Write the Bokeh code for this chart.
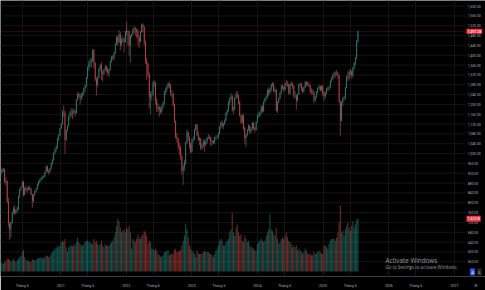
import pandas as pd
from bokeh.plotting import figure
from bokeh.models import Range1d, FixedTicker, Label, ColumnDataSource
from bokeh.core.properties import value
from bokeh.embed import file_html
from bokeh.resources import INLINE

# ---------------- data (weekly candles, VN-Index) ----------------
first_week = "2020-01-06"

open_ = [
    966, 956, 972, 991, 913, 925, 934, 938, 885, 890, 805, 718, 690, 720, 759, 776, 758, 769, 775, 826, 856, 864, 884, 833, 860, 852, 856, 861, 855, 835, 808, 832, 846, 857, 874, 886, 893, 899, 904, 906, 924, 946, 928, 925, 939, 961, 974, 1003, 1018, 1027, 1060, 1075,
    1104, 1120, 1167, 1166, 1056, 1094, 1112, 1152, 1168, 1168, 1167, 1172, 1165, 1220, 1240, 1232, 1224, 1240, 1246, 1266, 1275, 1310, 1350, 1370, 1375, 1378, 1420, 1367, 1302, 1280, 1310, 1345, 1358, 1330, 1325, 1341, 1352, 1345, 1328, 1342, 1376, 1393, 1389, 1410, 1445, 1472, 1452, 1484, 1444, 1464, 1465, 1455,
    1498, 1496, 1497, 1440, 1478, 1485, 1504, 1508, 1505, 1498, 1473, 1456, 1495, 1524, 1515, 1455, 1382, 1366, 1324, 1228, 1240, 1240, 1290, 1290, 1218, 1182, 1188, 1178, 1170, 1193, 1206, 1250, 1261, 1273, 1285, 1280, 1244, 1244, 1200, 1132, 1070, 1059, 1030, 1027, 989, 929, 947, 961, 1045, 1086, 1065, 1040,
    1007, 1055, 1060, 1098, 1117, 1077, 1056, 1060, 1022, 1033, 1048, 1038, 1046, 1064, 1068, 1065, 1046, 1050, 1044, 1066, 1067, 1067, 1081, 1108, 1126, 1114, 1120, 1135, 1165, 1177, 1207, 1222, 1233, 1178, 1180, 1227, 1240, 1232, 1211, 1154, 1128, 1154, 1103, 1062, 1076, 1097, 1112, 1090, 1102, 1124, 1102, 1096,
    1130, 1154, 1154, 1168, 1192, 1172, 1212, 1225, 1230, 1258, 1247, 1263, 1281, 1284, 1254, 1260, 1174, 1209, 1224, 1247, 1274, 1270, 1261, 1285, 1283, 1281, 1245, 1283, 1284, 1274, 1236, 1236, 1216, 1241, 1281, 1283, 1265, 1253, 1270, 1291, 1285, 1282, 1277, 1252, 1251, 1252, 1218, 1228, 1250, 1266, 1273, 1258, 1274,
    1243, 1233, 1248, 1265, 1264, 1269, 1295, 1305, 1319, 1326, 1325, 1326, 1318, 1210, 1135, 1210, 1225, 1226, 1268, 1313, 1308, 1332, 1334, 1318, 1349, 1367, 1387, 1457,
]
high_ = [
    968, 975, 992, 991, 935, 940, 942, 938, 905, 890, 820, 720, 725, 765, 785, 790, 775, 785, 828, 858, 868, 888, 890, 865, 870, 862, 870, 868, 860, 835, 835, 850, 862, 878, 890, 898, 905, 910, 912, 928, 952, 952, 935, 942, 965, 980, 1005, 1022, 1035, 1065, 1080, 1106,
    1125, 1178, 1195, 1175, 1100, 1115, 1155, 1175, 1185, 1180, 1185, 1178, 1222, 1248, 1250, 1245, 1245, 1252, 1270, 1282, 1312, 1355, 1380, 1385, 1390, 1425, 1425, 1372, 1310, 1315, 1350, 1365, 1372, 1338, 1345, 1360, 1358, 1350, 1345, 1380, 1398, 1400, 1415, 1450, 1478, 1480, 1502, 1494, 1470, 1478, 1472, 1500,
    1536, 1505, 1500, 1482, 1490, 1512, 1518, 1515, 1510, 1505, 1480, 1500, 1528, 1530, 1518, 1460, 1390, 1370, 1330, 1250, 1255, 1295, 1300, 1292, 1225, 1205, 1195, 1190, 1198, 1212, 1255, 1265, 1280, 1292, 1290, 1282, 1260, 1248, 1205, 1135, 1085, 1065, 1045, 1030, 995, 955, 975, 1050, 1100, 1090, 1070, 1045,
    1060, 1070, 1100, 1120, 1120, 1090, 1068, 1065, 1040, 1060, 1055, 1060, 1068, 1080, 1075, 1068, 1055, 1055, 1068, 1075, 1075, 1085, 1112, 1130, 1135, 1125, 1140, 1170, 1180, 1215, 1230, 1245, 1240, 1190, 1230, 1250, 1255, 1240, 1215, 1160, 1160, 1160, 1110, 1080, 1100, 1120, 1115, 1108, 1130, 1128, 1110, 1132,
    1160, 1168, 1175, 1195, 1198, 1215, 1228, 1240, 1262, 1270, 1268, 1285, 1292, 1290, 1270, 1262, 1212, 1228, 1252, 1280, 1282, 1275, 1290, 1300, 1295, 1285, 1286, 1295, 1288, 1278, 1255, 1240, 1245, 1285, 1290, 1288, 1270, 1275, 1295, 1295, 1292, 1290, 1280, 1265, 1262, 1255, 1235, 1255, 1270, 1280, 1278, 1278, 1278,
    1255, 1252, 1268, 1272, 1275, 1298, 1312, 1322, 1332, 1335, 1340, 1332, 1320, 1215, 1215, 1232, 1235, 1272, 1318, 1335, 1340, 1345, 1340, 1355, 1372, 1392, 1462, 1502,
]
low_ = [
    947, 953, 970, 910, 904, 920, 925, 880, 870, 798, 702, 649, 658, 715, 755, 750, 752, 762, 770, 820, 845, 860, 825, 830, 845, 840, 850, 850, 830, 780, 800, 828, 842, 852, 868, 880, 888, 895, 900, 904, 920, 925, 915, 922, 935, 955, 970, 995, 1008, 1020, 1050, 1070,
    1100, 1118, 1150, 1000, 1050, 1090, 1110, 1140, 1150, 1140, 1160, 1150, 1162, 1215, 1225, 1200, 1215, 1230, 1235, 1250, 1270, 1305, 1335, 1350, 1350, 1372, 1345, 1295, 1237, 1270, 1305, 1335, 1300, 1295, 1320, 1335, 1330, 1318, 1310, 1338, 1370, 1378, 1380, 1405, 1440, 1440, 1450, 1420, 1435, 1450, 1410, 1450,
    1480, 1440, 1400, 1370, 1470, 1480, 1490, 1480, 1470, 1440, 1430, 1450, 1490, 1495, 1440, 1365, 1300, 1310, 1185, 1160, 1215, 1235, 1270, 1200, 1170, 1170, 1150, 1160, 1165, 1180, 1200, 1240, 1250, 1265, 1265, 1235, 1225, 1190, 1125, 1060, 1045, 1015, 995, 975, 915, 873, 930, 955, 1040, 1050, 1020, 1000,
    1005, 1045, 1055, 1095, 1070, 1050, 1035, 1015, 1015, 1025, 1008, 1030, 1040, 1060, 1055, 1030, 1035, 1038, 1040, 1055, 1058, 1060, 1078, 1100, 1105, 1100, 1115, 1130, 1155, 1170, 1195, 1215, 1170, 1160, 1175, 1220, 1225, 1200, 1150, 1120, 1120, 1095, 1040, 1025, 1070, 1090, 1080, 1082, 1098, 1095, 1085, 1095,
    1125, 1145, 1150, 1160, 1165, 1170, 1205, 1215, 1225, 1235, 1240, 1250, 1270, 1250, 1245, 1170, 1165, 1205, 1220, 1240, 1260, 1250, 1255, 1275, 1270, 1240, 1240, 1275, 1262, 1225, 1225, 1180, 1210, 1238, 1270, 1255, 1245, 1248, 1265, 1275, 1275, 1270, 1245, 1240, 1240, 1205, 1210, 1225, 1245, 1260, 1250, 1255, 1235,
    1215, 1225, 1242, 1255, 1255, 1265, 1290, 1300, 1305, 1310, 1318, 1305, 1205, 1073, 1130, 1195, 1215, 1220, 1265, 1295, 1300, 1320, 1305, 1310, 1340, 1360, 1385, 1450,
]
close_ = [
    956, 972, 991, 913, 925, 934, 938, 885, 890, 805, 718, 690, 720, 759, 776, 758, 769, 775, 826, 856, 864, 884, 833, 860, 852, 856, 861, 855, 835, 808, 832, 846, 857, 874, 886, 893, 899, 904, 906, 924, 946, 928, 925, 939, 961, 974, 1003, 1018, 1027, 1060, 1075, 1104,
    1120, 1167, 1166, 1056, 1094, 1112, 1152, 1168, 1168, 1167, 1172, 1165, 1220, 1240, 1232, 1224, 1240, 1246, 1266, 1275, 1310, 1350, 1370, 1375, 1378, 1420, 1367, 1302, 1280, 1310, 1345, 1358, 1330, 1325, 1341, 1352, 1345, 1328, 1342, 1376, 1393, 1389, 1410, 1445, 1472, 1452, 1484, 1444, 1464, 1465, 1455, 1498,
    1496, 1497, 1440, 1478, 1485, 1504, 1508, 1505, 1498, 1473, 1456, 1495, 1524, 1515, 1455, 1382, 1366, 1324, 1228, 1240, 1240, 1290, 1290, 1218, 1182, 1188, 1178, 1170, 1193, 1206, 1250, 1261, 1273, 1285, 1280, 1244, 1244, 1200, 1132, 1070, 1059, 1030, 1027, 989, 929, 947, 961, 1045, 1086, 1065, 1040, 1007,
    1055, 1060, 1098, 1117, 1077, 1056, 1060, 1022, 1033, 1048, 1038, 1046, 1064, 1068, 1065, 1046, 1050, 1044, 1066, 1067, 1067, 1081, 1108, 1126, 1114, 1120, 1135, 1165, 1177, 1207, 1222, 1233, 1178, 1180, 1227, 1240, 1232, 1211, 1154, 1128, 1154, 1103, 1062, 1076, 1097, 1112, 1090, 1102, 1124, 1102, 1096, 1130,
    1154, 1154, 1168, 1192, 1172, 1212, 1225, 1230, 1258, 1247, 1263, 1281, 1284, 1254, 1260, 1174, 1209, 1224, 1247, 1274, 1270, 1261, 1285, 1283, 1281, 1245, 1283, 1284, 1274, 1236, 1236, 1216, 1241, 1281, 1283, 1265, 1253, 1270, 1291, 1285, 1282, 1277, 1252, 1251, 1252, 1218, 1228, 1250, 1266, 1273, 1258, 1274, 1243,
    1233, 1248, 1265, 1264, 1269, 1295, 1305, 1319, 1326, 1325, 1326, 1318, 1210, 1135, 1210, 1225, 1226, 1268, 1313, 1308, 1332, 1334, 1318, 1349, 1367, 1387, 1457, 1497.28,
]
# average daily volume of each week, billions of shares
volume_ = [
    0.20, 0.22, 0.18, 0.30, 0.30, 0.25, 0.24, 0.30, 0.32, 0.40, 0.40, 0.35, 0.30, 0.35, 0.38, 0.33, 0.30, 0.35, 0.40, 0.45, 0.48, 0.60, 0.66, 0.45, 0.35, 0.33, 0.33, 0.30, 0.30, 0.38, 0.36, 0.35, 0.36, 0.40, 0.42, 0.42, 0.43, 0.42, 0.40, 0.45, 0.50, 0.48, 0.45, 0.48, 0.55, 0.60, 0.65, 0.70, 0.72, 0.78, 0.75, 0.80,
    0.90, 0.95, 0.90, 1.00, 0.75, 0.60, 0.75, 0.78, 0.80, 0.78, 0.85, 0.80, 0.90, 1.05, 0.90, 0.85, 0.80, 0.80, 0.85, 0.90, 0.95, 0.95, 0.90, 0.90, 0.85, 0.85, 1.00, 0.90, 0.95, 0.85, 0.80, 0.85, 0.95, 0.80, 0.75, 0.85, 0.80, 0.80, 0.80, 0.85, 0.90, 0.95, 1.05, 1.20, 1.40, 1.62, 1.55, 1.35, 1.20, 1.25, 1.30, 1.20,
    1.35, 1.30, 1.40, 1.20, 0.70, 1.00, 0.95, 0.90, 1.00, 1.15, 1.05, 1.00, 1.10, 1.15, 1.25, 1.20, 1.10, 0.85, 0.95, 0.90, 0.70, 0.70, 0.65, 0.70, 0.65, 0.55, 0.50, 0.45, 0.48, 0.50, 0.60, 0.60, 0.65, 0.65, 0.50, 0.55, 0.55, 0.55, 0.65, 0.70, 0.60, 0.60, 0.65, 0.65, 0.80, 0.95, 1.10, 1.47, 1.30, 1.05, 0.80, 0.70,
    0.65, 0.60, 0.55, 0.45, 0.65, 0.55, 0.55, 0.55, 0.55, 0.60, 0.65, 0.60, 0.60, 0.60, 0.55, 0.55, 0.50, 0.45, 0.55, 0.65, 0.70, 0.80, 0.95, 1.00, 0.95, 0.80, 0.80, 0.90, 0.95, 1.00, 1.20, 1.30, 1.80, 1.20, 1.10, 1.35, 1.45, 1.20, 1.10, 1.15, 0.95, 0.90, 1.10, 1.00, 0.90, 0.95, 0.80, 0.75, 0.75, 0.70, 0.65, 0.65,
    0.85, 0.90, 0.95, 1.00, 0.95, 0.90, 0.95, 1.10, 1.20, 1.30, 1.77, 1.30, 1.25, 1.15, 1.10, 1.35, 1.00, 0.85, 0.90, 1.00, 1.05, 1.00, 1.10, 1.20, 1.05, 0.95, 0.90, 0.85, 0.75, 0.80, 0.75, 0.80, 0.65, 0.70, 0.65, 0.60, 0.55, 0.60, 0.70, 0.65, 0.55, 0.55, 0.55, 0.50, 0.50, 0.60, 0.55, 0.55, 0.60, 0.65, 0.60, 0.55, 0.55,
    0.80, 0.80, 0.75, 0.70, 0.85, 0.95, 1.00, 1.00, 1.00, 0.95, 1.05, 1.20, 1.50, 2.04, 1.20, 1.25, 1.10, 1.30, 1.40, 1.50, 1.35, 1.25, 1.40, 1.55, 1.35, 1.45, 1.60, 1.623,
]

price_ticks = [560, 600, 640, 680, 720, 760, 800, 840, 880, 920, 960, 1000, 1040, 1080, 1120,
               1160, 1200, 1240, 1280, 1320, 1360, 1400, 1440, 1480, 1520, 1560, 1600]
time_tick_dates = ["2020-06-01", "2021-01-01", "2021-06-01", "2022-01-01", "2022-06-01",
                   "2023-01-01", "2023-06-01", "2024-01-01", "2024-06-01", "2025-01-01",
                   "2025-06-01", "2026-01-01", "2026-06-01", "2027-01-01"]
time_tick_labels = ["Tháng 6", "2021", "Tháng 6", "2022", "Tháng 6", "2023", "Tháng 6",
                    "2024", "Tháng 6", "2025", "Tháng 6", "2026", "Tháng 6", "2027"]
last_price_label = "1,497.28"
last_volume_label = "1.623 B"

# ---------------- layout constants (view window, not data) ----------------
VIEW_START = pd.Timestamp("2020-02-01")      # left edge of the pane
PANE_END = pd.Timestamp("2027-03-05")        # right edge of the price pane
SCALE_X = pd.Timestamp("2027-03-17")         # where the price-scale labels start
GEAR_X = pd.Timestamp("2027-05-04")          # settings icon under the price scale
VIEW_END = pd.Timestamp("2027-06-24")        # right edge of the picture

# ---------------- build ----------------
n = len(close_)
assert all(len(a) == n for a in (open_, high_, low_, volume_)), [len(a) for a in (open_, high_, low_, close_, volume_)]

UP, DOWN = "#26a69a", "#ef5350"
CANDLE_UP, CANDLE_DOWN = "#3d9484", "#e5525a"
dates = pd.date_range(first_week, periods=n, freq="7D")
is_up = [c >= o for o, c in zip(open_, close_)]
src = ColumnDataSource(dict(
    date=dates, open=open_, high=high_, low=low_, close=close_, vol=volume_,
    body_top=[max(o, c) for o, c in zip(open_, close_)],
    body_bot=[min(o, c) for o, c in zip(open_, close_)],
    vcolor=[UP if u else DOWN for u in is_up],
    ccolor=[CANDLE_UP if u else CANDLE_DOWN for u in is_up],
))

DAY = 86400000
p = figure(width=485, height=290, x_axis_type="datetime",
           x_range=Range1d(VIEW_START, VIEW_END),
           y_range=Range1d(500.1, 1622.7),
           output_backend="svg", toolbar_location=None, y_axis_location=None,
           background_fill_color="#000000", border_fill_color="#000000",
           outline_line_color=None, min_border_left=0, min_border_top=0,
           min_border_right=0, min_border_bottom=8)
p.extra_y_ranges = {"vol": Range1d(-0.15, 8.326)}

GRID = "#151515"
tick_ms = [pd.Timestamp(d).value // 10**6 for d in time_tick_dates]
gear_ms = pd.Timestamp(GEAR_X).value // 10**6

# grids: vertical at the time ticks, horizontal only across the price pane
p.xgrid.ticker = FixedTicker(ticks=tick_ms)
p.xgrid.grid_line_color = GRID
p.ygrid.visible = False
p.segment(x0=[VIEW_START] * len(price_ticks), x1=[PANE_END] * len(price_ticks),
          y0=price_ticks, y1=price_ticks, line_color=GRID, line_width=1)

# volume
p.vbar(x="date", top="vol", bottom=0, width=5.5 * DAY, y_range_name="vol",
       fill_color="vcolor", fill_alpha=0.5, line_color=None, source=src)
# candles
p.segment(x0="date", y0="low", x1="date", y1="high", line_color="ccolor",
          line_width=0.55, source=src)
p.vbar(x="date", top="body_top", bottom="body_bot", width=3.0 * DAY,
       fill_color="ccolor", line_color=None, source=src)

FONT = "Roboto"
LABEL_COLOR = "#a9acb4"

# price scale
p.text(x=[SCALE_X] * len(price_ticks), y=price_ticks,
       text=[f"{v:,.2f}" for v in price_ticks],
       text_font=value(FONT), text_font_size="3.4px", text_color=LABEL_COLOR,
       text_baseline="middle", text_align="left")

# time axis (plus the settings icon under the price scale)
xa = p.xaxis[0]
xa.ticker = FixedTicker(ticks=tick_ms + [gear_ms])
overrides = {float(t): lab for t, lab in zip(tick_ms, time_tick_labels)}
overrides[float(gear_ms)] = "⚙"
xa.major_label_overrides = overrides
xa.axis_line_color = None
xa.major_tick_line_color = None
xa.minor_tick_line_color = None
xa.major_label_text_font_size = "3.6px"
xa.major_label_text_color = LABEL_COLOR
xa.major_label_text_font = FONT
xa.major_label_standoff = 1

# last price line
p.segment(x0=[VIEW_START], x1=[PANE_END], y0=[close_[-1]], y1=[close_[-1]],
          line_color=DOWN, line_alpha=0.55, line_dash="1 1", line_width=0.6)

# price and volume labels on the scale
p.add_layout(Label(x=466, y=close_[-1], x_units="screen", y_units="data",
                   text=last_price_label, text_font_size="3.6px", text_color="white",
                   text_font=FONT, text_baseline="middle",
                   background_fill_color="#f23645", padding=1))
p.add_layout(Label(x=466, y=volume_[-1], x_units="screen", y_units="data", y_range_name="vol",
                   text=last_volume_label, text_font_size="3.6px", text_color="white",
                   text_font=FONT, text_baseline="middle",
                   background_fill_color="#f23645", padding=1))

# small scale buttons
p.add_layout(Label(x=472, y=4.5, x_units="screen", y_units="screen", text="A",
                   text_font_size="4px", text_color="white", text_font=FONT,
                   text_align="center", text_baseline="middle",
                   background_fill_color="#2962ff", padding=1))
p.add_layout(Label(x=479, y=4.5, x_units="screen", y_units="screen", text="L",
                   text_font_size="4px", text_color="#d1d4dc", text_font=FONT,
                   text_align="center", text_baseline="middle",
                   background_fill_color="#2a2a2e", padding=1))

# watermark
p.add_layout(Label(x=385, y=16, x_units="screen", y_units="screen", text="Activate Windows",
                   text_font_size="6.3px", text_color="#9b9b9b", text_font="Open Sans",
                   text_baseline="middle"))
p.add_layout(Label(x=385, y=10, x_units="screen", y_units="screen",
                   text="Go to Settings to activate Windows.",
                   text_font_size="4.4px", text_color="#9b9b9b", text_font="Open Sans",
                   text_baseline="middle"))

open("out.html", "w").write(file_html(p, INLINE, "VN-Index"))
